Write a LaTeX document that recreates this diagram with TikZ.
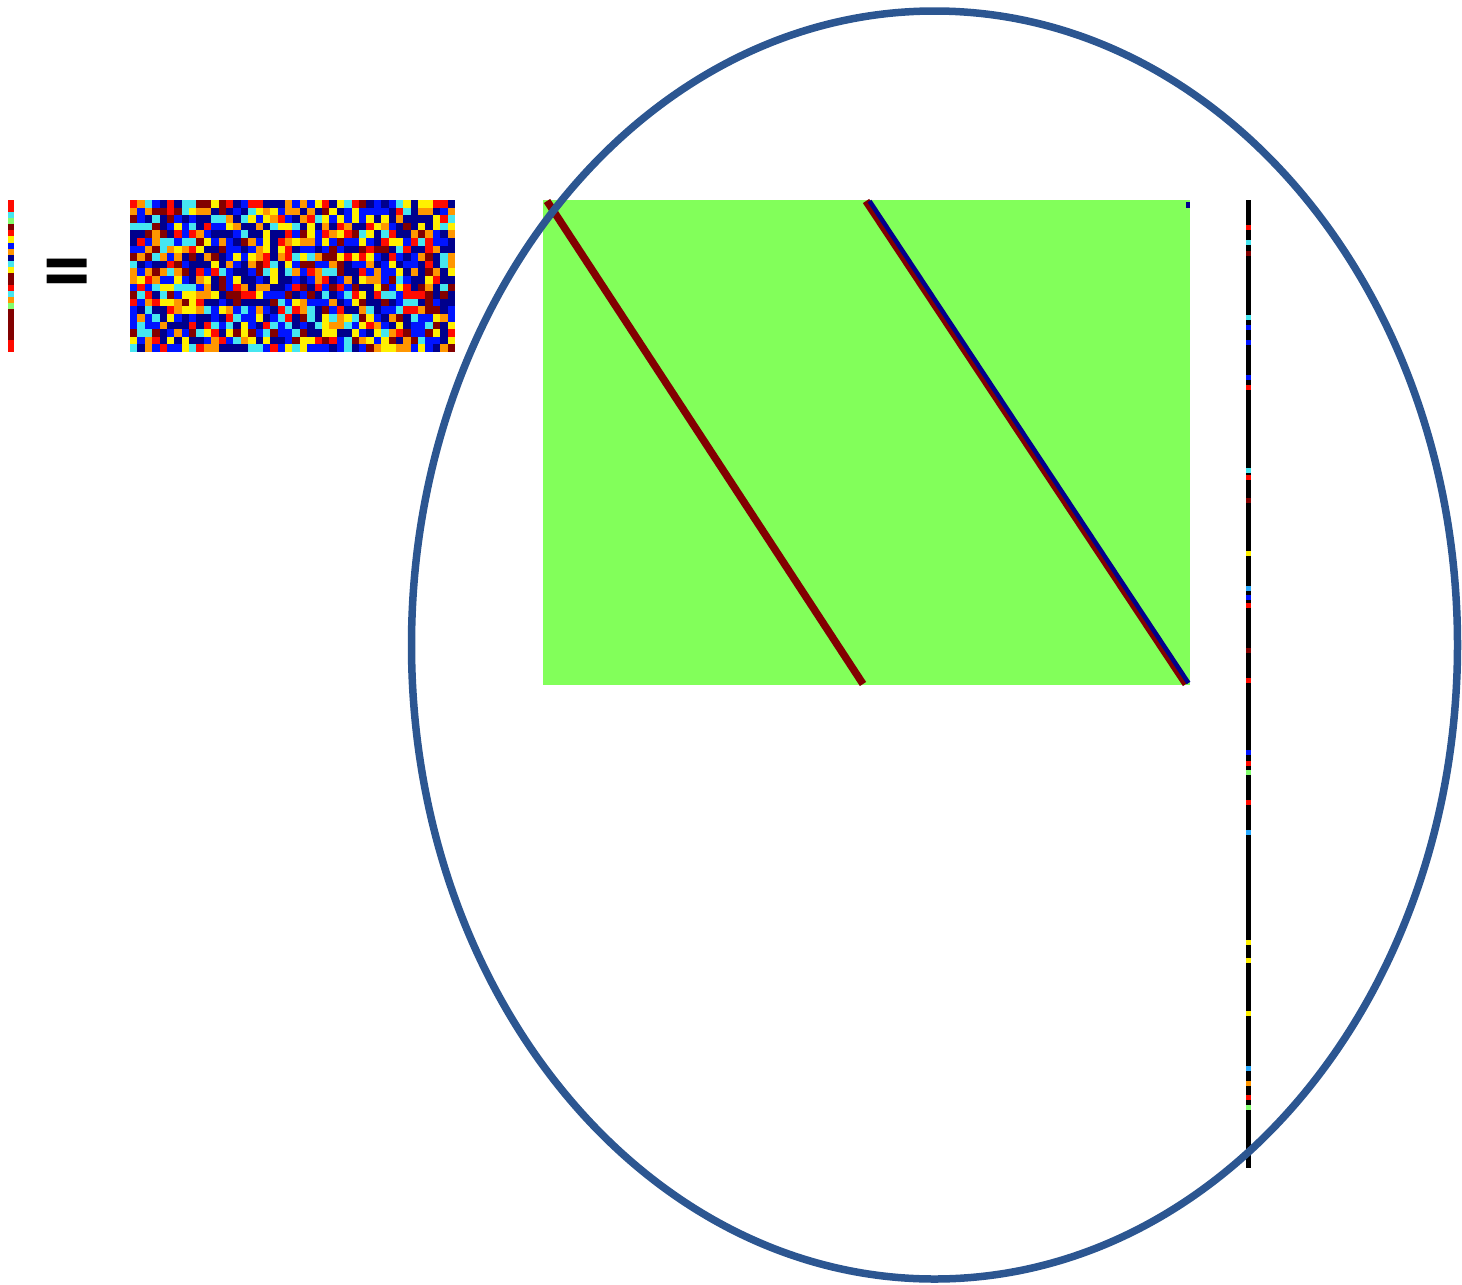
\documentclass[tikz,border=0pt]{standalone}
\usepackage{fontspec}
\newfontfamily\eqfont{Carlito}
\definecolor{jetdb}{RGB}{0,0,140}
\definecolor{jetb}{RGB}{0,20,255}
\definecolor{jetlb}{RGB}{40,170,255}
\definecolor{jetc}{RGB}{70,230,240}
\definecolor{jetg}{RGB}{130,255,110}
\definecolor{jety}{RGB}{255,240,0}
\definecolor{jeto}{RGB}{255,150,0}
\definecolor{jetr}{RGB}{255,10,0}
\definecolor{jetdr}{RGB}{130,0,0}
\definecolor{matgreen}{RGB}{130,255,90}
\definecolor{ringblue}{RGB}{44,86,145}
% colour index used by the random matrix
\colorlet{jet1}{jetdb}\colorlet{jet2}{jetb}\colorlet{jet3}{jetb}
\colorlet{jet4}{jetc}\colorlet{jet5}{jety}\colorlet{jet6}{jeto}
\colorlet{jet7}{jetr}\colorlet{jet8}{jetdr}\colorlet{jet9}{jetdb}
\tikzset{
 band/.style={fill=#1,draw=none},
 diag/.style={line width=7.5pt,line cap=butt,draw=#1},
 ring/.style={draw=ringblue,line width=7.5pt}}
\begin{document}
\begin{tikzpicture}[x=1pt,y=-1pt]
\useasboundingbox (0,0) rectangle (1462,1285);
% left column vector
\foreach \c [count=\n from 0] in {jetr,jetr,jetc,jetg,jetdr,jetr,jety,jetb,jeto,jetdb,jetc,jety,jetdr,jetdr,jetr,jetc,jeto,jetg,jetdr,jetdr,jetdr,jetdr,jetdr,jetr,jetr}
 \fill[band=\c] (8,{200+\n*6.08}) rectangle (14,{200+(\n+1)*6.08});
\node[inner sep=0pt,font=\eqfont\bfseries\fontsize{95}{95}\selectfont] (eq) at (67,280) {=};
% random matrix
\pgfmathsetseed{4711}
\foreach \i in {0,...,43}
 \foreach \j in {0,...,19}{
  \pgfmathrandominteger{\k}{1}{9}
  \fill[band=jet\k] ({130+\i*7.386},{200+\j*7.6}) rectangle ({130+(\i+1)*7.386},{200+(\j+1)*7.6});
 }
% green matrix with two diagonals
\fill[matgreen] (543,200) rectangle (1190,685);
\draw[diag=jetdr] (547,201) -- (863,684);
\draw[diag=jetdr] (866,201) -- (1186,684);
\draw[line width=4.5pt,draw=jetdb] (869.5,201) -- (1188.5,683);
\fill[jetdb] (1186,202) rectangle (1190,208);
% right column vector
\fill[black] (1245.5,200) rectangle (1250.5,1168);
\foreach \y/\c in {227/jetr,242/jetc,253/jetdr,317/jetc,327/jetb,342/jetb,377/jetb,387/jetr,470/jetc,477/jetr,500/jetdr,553/jety,588/jetlb,597/jetb,605/jetr,650/jetdr,680/jetr,752/jetb,763/jetr,772/jetg,802/jetr,832/jetlb,942/jety,960/jety,1013/jety,1068/jetlb,1083/jeto,1097/jetr,1107/jetg}
 \fill[band=\c] (1245.5,\y-2.5) rectangle (1250.5,\y+2.5);
% ellipse
\draw[ring] (934.5,645) ellipse [x radius=523,y radius=634];
\end{tikzpicture}
\end{document}
